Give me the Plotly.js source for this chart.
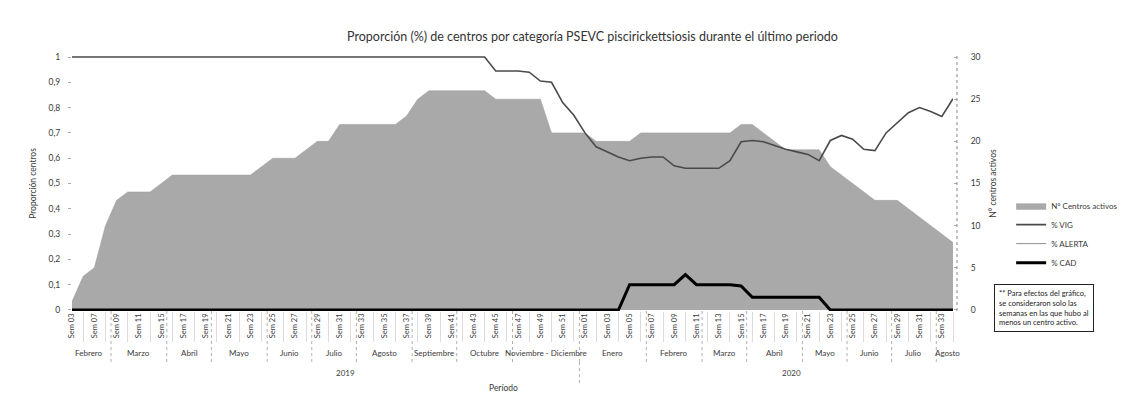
<!DOCTYPE html>
<html>
<head>
<meta charset="utf-8">
<script src="https://cdn.plot.ly/plotly-3.0.1.min.js"></script>
<style>html,body{margin:0;padding:0;background:#fff;}#chart{width:1135px;height:405px;}</style>
</head>
<body>
<div id="chart"></div>
<script>
// ---- data ----
const weekLabels = [
  "Sem 03","Sem 07","Sem 09","Sem 11","Sem 15","Sem 17","Sem 19","Sem 21","Sem 23","Sem 25",
  "Sem 27","Sem 29","Sem 31","Sem 33","Sem 35","Sem 37","Sem 39","Sem 41","Sem 43","Sem 45",
  "Sem 47","Sem 49","Sem 51",
  "Sem 01","Sem 03","Sem 05","Sem 07","Sem 09","Sem 11","Sem 13","Sem 15","Sem 17","Sem 19",
  "Sem 21","Sem 23","Sem 25","Sem 27","Sem 29","Sem 31","Sem 33"
];
const centrosActivos = [
  1,4,5,10,13,14,14,14,15,16, 16,16,16,16,16,16,16,17,18,18,
  18,19,20,20,22,22,22,22,22,22, 23,25,26,26,26,26,26,26,25,25,
  25,25,25,21,21,21,21,20,20,20, 20,21,21,21,21,21,21,21,21,21,
  22,22,21,20,19,19,19,19,17,16, 15,14,13,13,13,12,11,10,9,8
];
const pctVIG = [
  1,1,1,1,1,1,1,1,1,1, 1,1,1,1,1,1,1,1,1,1,
  1,1,1,1,1,1,1,1,1,1, 1,1,1,1,1,1,1,1,0.945,0.945,
  0.945,0.94,0.905,0.9,0.82,0.77,0.70,0.645,0.625,0.605, 0.59,0.60,0.605,0.605,0.57,0.56,0.56,0.56,0.56,0.59,
  0.665,0.67,0.665,0.65,0.635,0.625,0.615,0.59,0.67,0.69, 0.675,0.635,0.63,0.70,0.74,0.78,0.80,0.785,0.765,0.835
];
const pctALERTA = [
  0,0,0,0,0,0,0,0,0,0, 0,0,0,0,0,0,0,0,0,0,
  0,0,0,0,0,0,0,0,0,0, 0,0,0,0,0,0,0,0,0.055,0.055,
  0.055,0.06,0.095,0.1,0.18,0.23,0.30,0.355,0.375,0.395, 0.31,0.30,0.295,0.295,0.33,0.30,0.34,0.34,0.34,0.31,
  0.235,0.28,0.285,0.30,0.315,0.325,0.335,0.36,0.33,0.31, 0.325,0.365,0.37,0.30,0.26,0.22,0.20,0.215,0.235,0.165
];
const pctCAD = [
  0,0,0,0,0,0,0,0,0,0, 0,0,0,0,0,0,0,0,0,0,
  0,0,0,0,0,0,0,0,0,0, 0,0,0,0,0,0,0,0,0,0,
  0,0,0,0,0,0,0,0,0,0, 0.1,0.1,0.1,0.1,0.1,0.14,0.1,0.1,0.1,0.1,
  0.095,0.05,0.05,0.05,0.05,0.05,0.05,0.05,0,0, 0,0,0,0,0,0,0,0,0,0
];
const monthLabels = ["Febrero","Marzo","Abril","Mayo","Junio","Julio","Agosto","Septiembre","Octubre","Noviembre - Diciembre",
                     "Enero","Febrero","Marzo","Abril","Mayo","Junio","Julio","Agosto"];
const monthStart = [0,4,9,13,18,22,26,31,35,40, 46,52,57,61,66,70,74,78];
const yearLabels = ["2019","2020"];
const yearStart = [0,46];
const yTickVals = [0,0.1,0.2,0.3,0.4,0.5,0.6,0.7,0.8,0.9,1];

// ---- build ----
const n = centrosActivos.length;
const idx = centrosActivos.map((_, i) => i);
const tickIdx = weekLabels.map((_, k) => 2 * k);
const FONT = "Lato, 'Open Sans', sans-serif";
const TXT = "#3a3a3a";

const traces = [
  {x: idx, y: pctALERTA, yaxis: "y", type: "scatter", mode: "lines", name: "% ALERTA",
   line: {color: "#8c8c8c", width: 1}, legendrank: 3},
  {x: idx, y: centrosActivos, yaxis: "y2", type: "scatter", mode: "lines", name: "N° Centros activos",
   fill: "tozeroy", fillcolor: "#a9a9a9", line: {color: "#9a9a9a", width: 0.5}, legendrank: 1},
  {x: idx, y: pctVIG, yaxis: "y3", type: "scatter", mode: "lines", name: "% VIG",
   line: {color: "#4a4a4a", width: 1.6}, legendrank: 2},
  {x: idx, y: pctCAD, yaxis: "y3", type: "scatter", mode: "lines", name: "% CAD",
   line: {color: "#000000", width: 3}, legendrank: 4}
];

const annotations = [];
const shapes = [];
monthLabels.forEach((m, k) => {
  const s = monthStart[k];
  const e = (k + 1 < monthStart.length ? monthStart[k + 1] : n) - 1;
  annotations.push({x: (s + e) / 2, xref: "x", y: -0.165, yref: "paper", text: m, showarrow: false,
    font: {family: FONT, size: 8, color: TXT}, xanchor: "center", yanchor: "middle"});
  if (k > 0) shapes.push({type: "line", xref: "x", yref: "paper", x0: s - 0.5, x1: s - 0.5, y0: 0, y1: -0.2,
    line: {color: "#b0b0b0", width: 1, dash: "dot"}});
});
yearLabels.forEach((yl, k) => {
  const s = yearStart[k];
  const e = (k + 1 < yearStart.length ? yearStart[k + 1] : n) - 1;
  annotations.push({x: (s + e) / 2 + 2, xref: "x", y: -0.215, yref: "paper", text: yl, showarrow: false,
    font: {family: FONT, size: 8, color: TXT}, yanchor: "top"});
  if (k > 0) shapes.push({type: "line", xref: "x", yref: "paper", x0: s - 0.5, x1: s - 0.5, y0: -0.2, y1: -0.29,
    line: {color: "#b0b0b0", width: 1, dash: "dot"}});
});
annotations.push({x: 0.49, xref: "paper", y: -0.275, yref: "paper", text: "Período", showarrow: false,
  font: {family: FONT, size: 8.5, color: TXT}, yanchor: "top"});
annotations.push({x: 1.103, xref: "paper", y: 0.012, yref: "paper", xanchor: "center", yanchor: "middle",
  text: "** Para efectos del gráfico,<br>se consideraron solo las<br>semanas en las que hubo al<br>menos un centro activo.",
  showarrow: false, align: "left", bordercolor: "#222", borderwidth: 1, borderpad: 4, bgcolor: "#fff",
  font: {family: FONT, size: 7.5, color: "#222"}});
// right axis dotted line
shapes.push({type: "line", xref: "paper", yref: "paper", x0: 1.0045, x1: 1.0045, y0: 0, y1: 1.0,
  line: {color: "#888", width: 1, dash: "dot"}});

const layout = {
  width: 1135, height: 405,
  margin: {l: 72, r: 172, t: 56, b: 94},
  paper_bgcolor: "#fff", plot_bgcolor: "#fff",
  separators: ",.",
  font: {family: FONT, color: TXT},
  title: {text: "Proporción (%) de centros por categoría PSEVC piscirickettsiosis durante el último periodo",
    font: {family: FONT, size: 12.5, color: "#333"}, x: 0.522, xanchor: "center", y: 0.91, yanchor: "middle"},
  showlegend: true,
  legend: {x: 1.066, xanchor: "left", y: 0.47, yanchor: "top", font: {family: FONT, size: 8, color: TXT},
    bgcolor: "rgba(0,0,0,0)", itemwidth: 30, tracegroupgap: 2},
  xaxis: {range: [0, n - 1], tickmode: "array", tickvals: tickIdx, ticktext: weekLabels, tickangle: -90,
    tickfont: {family: FONT, size: 7.5, color: TXT}, ticks: "", showgrid: false, zeroline: false, showline: false,
    minor: {tickmode: "array", tickvals: tickIdx.map(v => v + 1), ticks: "outside", ticklen: 30, tickcolor: "#dcdcdc", tickwidth: 1}},
  yaxis: {range: [-0.004, 1.004], tickmode: "array", tickvals: yTickVals, showgrid: false, zeroline: false,
    showline: false, ticks: "outside", ticklen: 3, tickcolor: "#aaa", ticklabelstandoff: 6,
    tickfont: {family: FONT, size: 8.5, color: TXT},
    title: {text: "Proporción centros", font: {family: FONT, size: 8.5, color: TXT}, standoff: 10}},
  yaxis2: {range: [-0.12, 30.12], overlaying: "y", side: "right", dtick: 5, showgrid: false, zeroline: false,
    showline: false, ticks: "outside", ticklen: 3, tickcolor: "#aaa", ticklabelstandoff: 12,
    tickfont: {family: FONT, size: 8.5, color: TXT},
    title: {text: "N° centros activos", font: {family: FONT, size: 8.5, color: TXT}, standoff: 10}},
  yaxis3: {range: [-0.004, 1.004], overlaying: "y", visible: false},
  annotations: annotations,
  shapes: shapes
};

Plotly.newPlot("chart", traces, layout, {displayModeBar: false, staticPlot: true});
</script>
</body>
</html>
